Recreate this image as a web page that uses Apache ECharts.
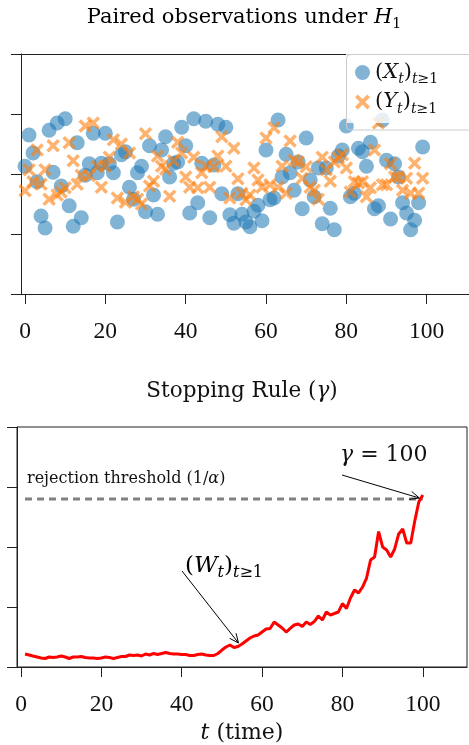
<!DOCTYPE html>
<html><head><meta charset="utf-8">
<script src="https://cdn.jsdelivr.net/npm/echarts@6/dist/echarts.min.js"></script>
<style>html,body{margin:0;padding:0;background:#fff;overflow:hidden}#c{width:469px;height:745px}</style>
</head><body><div id="c"></div>
<script>
// ---------- data ----------
const obsTime = [0,1,2,3,4,5,6,7,8,9,10,11,12,13,14,15,16,17,18,19,20,21,22,23,24,25,26,27,28,29,30,31,32,33,34,35,36,37,38,39,40,41,42,43,44,45,46,47,48,49,50,51,52,53,54,55,56,57,58,59,60,61,62,63,64,65,66,67,68,69,70,71,72,73,74,75,76,77,78,79,80,81,82,83,84,85,86,87,88,89,90,91,92,93,94,95,96,97,98,99];
const xObs = [21.3,26.5,23.5,18.7,13,11,27.3,20.3,28.5,18,
  29.2,14.7,11.3,25.2,12.7,19.8,21.7,26.8,20.2,21.8,
  26.8,21.7,20.2,12,23.2,23.7,17.8,15.8,20.2,21.3,
  13.7,24.7,16.5,13.3,24,26.2,19.5,21.8,22,27.8,
  24.7,13.5,29.2,15.2,21.8,28.8,12.7,21.5,28.3,16.7,
  27.8,13.2,11.8,16.7,13.3,12,11.2,13.8,14.8,12.2,
  24,15.7,16,29,19.5,23.3,20.2,17.3,22,14.2,
  26,19,16.2,21,11.7,21,14.3,10.7,23,24,
  28,16.2,16.8,24.3,23.7,21.3,25.3,14.2,14.7,29,
  22.3,12.5,21.7,19.5,15.2,13.5,10.7,12.3,15.2,24.5];
const yObs = [17.2,20.7,18.7,24,18.3,20.7,15.8,24.7,16.5,17,
  17.7,25.2,22.2,18.3,19.8,28,19.7,28.5,21.3,17.8,
  21.3,22.8,25.7,16,25,15.3,23.5,16.2,15.8,15,
  26.7,18,18.8,23,21.3,20.8,16.3,22.2,25.3,23.5,
  19.5,17.8,22.8,17.7,20.2,21.3,17.8,21.2,23,26.2,
  21.3,16,24.3,19.2,16.8,15.7,16.5,21,19,17.8,
  26,18.2,27.7,17.8,21.3,16.8,25.5,22.3,22,19.3,
  21.2,17.8,17.3,15.8,22.8,20.7,18.8,22,22.7,23.2,
  21,17,18.7,18.5,18.7,16.2,17.7,24,28.5,18.2,
  18.2,21.7,19.5,19.5,17.3,19.3,16.8,21.8,16.8,19.3];
const wTime = [1,2,3,4,5,6,7,8,9,10,11,12,13,14,15,16,17,18,19,20,21,22,23,24,25,26,27,28,29,30,31,32,33,34,35,36,37,38,39,40,41,42,43,44,45,46,47,48,49,50,51,52,53,54,55,56,57,58,59,60,61,62,63,64,65,66,67,68,69,70,71,72,73,74,75,76,77,78,79,80,81,82,83,84,85,86,87,88,89,90,91,92,93,94,95,96,97,98,99,100];
const wealth = [2.17,2,1.83,1.67,1.5,1.42,1.67,1.58,1.67,1.83,
  1.67,1.42,1.67,1.67,1.75,1.58,1.5,1.5,1.42,1.5,
  1.67,1.58,1.42,1.58,1.75,1.75,2,1.92,2,1.83,
  2.17,2,2.25,2.08,2.25,2.42,2.25,2.17,2.17,2.08,
  2.08,1.92,1.92,2.08,2.17,2,1.92,1.92,2.25,2.83,
  3.33,3.67,3.25,3.42,3.83,4.33,4.83,5.17,5.33,5.83,
  6.33,6.42,7.5,7,6.5,5.83,6.42,7,7.17,6.75,
  7.5,7.08,7.58,8.5,7.83,9.17,8.67,8.92,9.17,10.58,
  9.75,11.5,12.83,12.33,13.33,14.83,17.83,18.33,22.58,20,
  19.5,18.33,19.67,22.17,23,20.67,20.67,24.33,27.5,28.67];
const threshold = 28;
const xTicks = [0,20,40,60,80,100];

// ---------- chart ----------
const SERIF = 'DejaVu Serif';
const NUM = 'Liberation Serif';
const AX = '#222';
const chart = echarts.init(document.getElementById('c'), null, {renderer:'canvas'});
const zip = (a,b) => a.map((v,i)=>[v,b[i]]);
const XMARK = 'path://M0,1.8 L1.8,0 L5,3.2 L8.2,0 L10,1.8 L6.8,5 L10,8.2 L8.2,10 L5,6.8 L1.8,10 L0,8.2 L3.2,5 Z';

function xAxisCfg(gi, extra){
  return Object.assign({
    type:'value', gridIndex:gi, min:-1, max:111,
    axisLine:{show:true, onZero:false, lineStyle:{color:AX, width:1}},
    axisTick:{show:true, inside:false, length:10, customValues:xTicks, lineStyle:{color:AX, width:1}},
    axisLabel:{show:true, customValues:xTicks, margin:26, fontFamily:NUM, fontSize:23.5, color:'#111'},
    splitLine:{show:false}
  }, extra||{});
}
function yAxisCfg(gi){
  return {
    type:'value', gridIndex:gi, min:0, max:40, interval:10, position:'left',
    axisLine:{show:true, onZero:false, lineStyle:{color:AX, width:1}},
    axisTick:{show:true, inside:false, length:10, lineStyle:{color:AX, width:1}},
    axisLabel:{show:false}, splitLine:{show:false}
  };
}
const subRich = {
  p:{fontFamily:SERIF, fontSize:21, lineHeight:28, color:'#111'},
  v:{fontFamily:SERIF, fontStyle:'italic', fontSize:21, lineHeight:28, color:'#111'},
  st:{fontFamily:SERIF, fontStyle:'italic', fontSize:14, lineHeight:14, verticalAlign:'bottom', color:'#111'},
  su:{fontFamily:SERIF, fontSize:14, lineHeight:14, verticalAlign:'bottom', color:'#111'}
};

chart.setOption({
  animation:false,
  backgroundColor:'#fff',
  grid:[
    {left:21, top:54, width:482, height:240, show:false, outerBoundsMode:'none', containLabel:false},
    {left:17, top:427, width:450, height:240, show:true, borderColor:AX, borderWidth:1, backgroundColor:'transparent', outerBoundsMode:'none', containLabel:false}
  ],
  xAxis:[
    xAxisCfg(0, {max:119}),
    xAxisCfg(1, {name:'{i|t} (time)', nameLocation:'middle', nameGap:55,
      nameTextStyle:{fontFamily:SERIF, fontSize:22, color:'#111',
        rich:{i:{fontFamily:SERIF, fontStyle:'italic', fontSize:22, color:'#111'}}}}),
    {type:'value', gridIndex:0, position:'top', min:-1, max:119,
      axisLine:{show:true, onZero:false, lineStyle:{color:AX, width:1}},
      axisTick:{show:false}, axisLabel:{show:false}, splitLine:{show:false}}
  ],
  yAxis:[yAxisCfg(0), yAxisCfg(1)],
  legend:{
    orient:'vertical', left:346, top:54,
    data:['X','Y'],
    itemWidth:15, itemHeight:15, itemGap:5,
    padding:[8,40,7,9],
    backgroundColor:'rgba(255,255,255,0.8)', borderWidth:0,
    formatter: n => `{p|(}{v|${n}}{st|t}{p|)}{st|t}{su|≥1}`,
    textStyle:{rich:subRich}
  },
  series:[
    {name:'X', type:'scatter', xAxisIndex:0, yAxisIndex:0, data:zip(obsTime,xObs),
      symbol:'circle', symbolSize:15, itemStyle:{color:'rgba(31,119,180,0.7)'}},
    {name:'Y', type:'scatter', xAxisIndex:0, yAxisIndex:0, data:zip(obsTime,yObs),
      symbol:XMARK, symbolSize:13.5, itemStyle:{color:'rgba(255,127,14,0.75)'}},
    {name:'threshold', type:'line', xAxisIndex:1, yAxisIndex:1,
      data:[[wTime[0],threshold],[wTime[wTime.length-1],threshold]],
      showSymbol:false, symbol:'none', lineStyle:{color:'#808080', width:3, type:[7,5]}},
    {name:'W', type:'line', xAxisIndex:1, yAxisIndex:1, data:zip(wTime,wealth),
      showSymbol:false, symbol:'none', lineStyle:{color:'#ff0000', width:3}}
  ]
});

// ---------- annotations ----------
function arrow(x0,y0,x1,y1){
  const ang = Math.atan2(y1-y0, x1-x0), L = 10, a = 0.42;
  const p1 = [x1 - L*Math.cos(ang-a), y1 - L*Math.sin(ang-a)];
  const p2 = [x1 - L*Math.cos(ang+a), y1 - L*Math.sin(ang+a)];
  return [
    {type:'polyline', shape:{points:[[x0,y0],[x1,y1]]}, style:{stroke:'#000', lineWidth:1, fill:'none'}, z:10},
    {type:'polyline', shape:{points:[p1,[x1,y1],p2]}, style:{stroke:'#000', lineWidth:1, fill:'none'}, z:10}
  ];
}
const tipW = chart.convertToPixel({gridIndex:1}, [wTime[53], wealth[53]]);
const tipG = chart.convertToPixel({gridIndex:1}, [wTime[99], threshold]);
const big = {
  p:{fontFamily:SERIF, fontSize:23, lineHeight:30, color:'#111'},
  v:{fontFamily:SERIF, fontStyle:'italic', fontSize:23, lineHeight:30, color:'#111'},
  st:{fontFamily:SERIF, fontStyle:'italic', fontSize:16, lineHeight:16, verticalAlign:'bottom', color:'#111'},
  su:{fontFamily:SERIF, fontSize:16, lineHeight:16, verticalAlign:'bottom', color:'#111'}
};
chart.setOption({
  graphic:[
    {type:'rect', z:100, silent:true, shape:{x:464.5, y:55.5, width:6, height:237.5},
      style:{fill:'#ffffff', stroke:null}},
    {type:'rect', z:101, silent:true, shape:{x:346.5, y:54.5, width:150, height:75.5, r:4},
      style:{fill:'none', stroke:'#cccccc', lineWidth:1}},
    {type:'text', x:244, y:18, z:10, style:{text:'{r|Paired observations under }{i|H}{s|1}', align:'center', verticalAlign:'middle',
      rich:{r:{fontFamily:SERIF, fontSize:21, lineHeight:26, color:'#111'},
            i:{fontFamily:SERIF, fontStyle:'italic', fontSize:21, lineHeight:26, color:'#111'},
            s:{fontFamily:SERIF, fontSize:14, lineHeight:14, verticalAlign:'bottom', color:'#111'}}}},
    {type:'text', x:242, y:391, z:10, style:{text:'Stopping Rule ({i|γ})', align:'center', verticalAlign:'middle',
      fontFamily:SERIF, fontSize:21.5, fill:'#111',
      rich:{i:{fontFamily:SERIF, fontStyle:'italic', fontSize:21.5, color:'#111'}}}},
    {type:'text', x:27, y:479, z:10, style:{text:'rejection threshold (1/{i|α})', align:'left', verticalAlign:'middle',
      fontFamily:SERIF, fontSize:16, fill:'#111',
      rich:{i:{fontFamily:SERIF, fontStyle:'italic', fontSize:16, color:'#111'}}}},
    {type:'text', x:340, y:455, z:10, style:{text:'{i|γ} = 100', align:'left', verticalAlign:'middle',
      fontFamily:SERIF, fontSize:22, fill:'#111',
      rich:{i:{fontFamily:SERIF, fontStyle:'italic', fontSize:22, color:'#111'}}}},
    {type:'text', x:185, y:566, z:10, style:{text:'{p|(}{v|W}{st|t}{p|)}{st|t}{su|≥1}', align:'left', verticalAlign:'middle', rich:big}},
    ...arrow(182,571, tipW[0]+0.5, tipW[1]-3.5),
    ...arrow(342,475, tipG[0]-3.5, tipG[1]-1)
  ]
});
</script>
</body></html>
